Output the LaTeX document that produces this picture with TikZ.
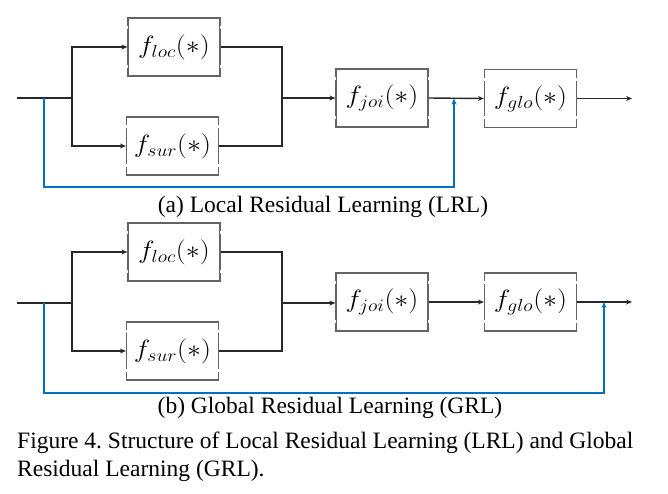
\RequirePackage{fix-cm}
\documentclass[tikz,border=0pt]{standalone}
\usepackage{fontspec}
\setmainfont{Liberation Serif}
\usetikzlibrary{arrows.meta}
\definecolor{resblue}{RGB}{0,112,192}
\definecolor{boxgray}{RGB}{100,100,100}
\definecolor{linegray}{RGB}{40,40,40}
\frenchspacing
\newcommand{\fn}[1]{\scalebox{1.12}[1]{$f_{#1}(*)$}}
\begin{document}
\begin{tikzpicture}[x=1pt,y=-1pt,
  fbox/.style={draw=boxgray, line width=1.2pt, minimum width=92pt, minimum height=58pt, inner sep=0pt, font=\fontsize{25}{29}\selectfont},
  conn/.style={draw=linegray, line width=1.4pt},
  arr/.style={conn, -{Stealth[length=6pt,width=5pt]}},
  res/.style={draw=resblue, line width=1.4pt},
  resarr/.style={res, -{Stealth[length=6pt,width=5pt]}},
  nick/.style={draw=white, line width=2pt},
  captxt/.style={font=\fontsize{23.5}{28}\selectfont, inner sep=0pt}
]
\useasboundingbox (0,0) rectangle (668,493);

% ---------- (a) Local Residual Learning ----------
\node[fbox] (locA) at (174,47) {\fn{loc}};
\node[fbox] (surA) at (172.5,146) {\fn{sur}};
\node[fbox] (joiA) at (382,98) {\fn{joi}};
\node[fbox] (gloA) at (530.5,98.5) {\fn{glo}};
\coordinate (inA) at (17,98);
\coordinate (tapA) at (44,98);
\coordinate (splitA) at (72,98);
\coordinate (mergeA) at (282,98);
\coordinate (addA) at (454,98.5);
\coordinate (outA) at (632,98.5);
\coordinate (lowLA) at (44,187);
\coordinate (lowRA) at (454,187);

\draw[conn] (inA) -- (splitA);
\draw[arr] (splitA) |- (locA.west);
\draw[arr] (splitA) |- (surA.west);
\draw[conn] (locA.east) -| (mergeA) |- (surA.east);
\draw[arr] (mergeA) -- (joiA.west);
\draw[arr] (joiA.east) -- (gloA.west);
\draw[arr] (gloA.east) -- (outA);
\draw[resarr] (tapA) -- (lowLA) -- (lowRA) -- (addA);

\node[captxt] (capA) at (323,207) {(a) Local Residual Learning (LRL)};

% ---------- (b) Global Residual Learning ----------
\node[fbox] (locB) at (174,252) {\fn{loc}};
\node[fbox] (surB) at (172.5,351) {\fn{sur}};
\node[fbox] (joiB) at (382,302) {\fn{joi}};
\node[fbox] (gloB) at (530.5,302) {\fn{glo}};
\coordinate (inB) at (17,303);
\coordinate (tapB) at (44,303);
\coordinate (splitB) at (72,303);
\coordinate (mergeB) at (282,303);
\coordinate (addB) at (604,302);
\coordinate (outB) at (632,302);
\coordinate (lowLB) at (44,393);
\coordinate (lowRB) at (604,393);

\draw[conn] (inB) -- (splitB);
\draw[arr] (splitB) |- (locB.west);
\draw[arr] (splitB) |- (surB.west);
\draw[conn] (locB.east) -| (mergeB) |- (surB.east);
\draw[arr] (mergeB) -- (joiB.west |- mergeB);
\draw[arr] (joiB.east) -- (gloB.west);
\draw[arr] (gloB.east) -- (outB);
\draw[resarr] (tapB) -- (lowLB) -- (lowRB) -- (addB);

\node[captxt] (capB) at (330,408) {(b) Global Residual Learning (GRL)};

% small gaps on the vertical sides of the boxes
\foreach \n in {locA,surA,joiA,gloA,locB,surB,joiB,gloB}{
  \draw[nick] ([yshift=-9pt]\n.north west) -- ([yshift=-12pt]\n.north west);
  \draw[nick] ([yshift=-9pt]\n.north east) -- ([yshift=-12pt]\n.north east);
  \draw[nick] ([yshift=9pt]\n.south west) -- ([yshift=12pt]\n.south west);
  \draw[nick] ([yshift=9pt]\n.south east) -- ([yshift=12pt]\n.south east);
}

% ---------- figure caption ----------
\node[captxt, anchor=west] (figA) at (17,443) {Figure 4. Structure of Local Residual Learning (LRL) and Global};
\node[captxt, anchor=west] (figB) at (17,471) {Residual Learning (GRL).};
\end{tikzpicture}
\end{document}
